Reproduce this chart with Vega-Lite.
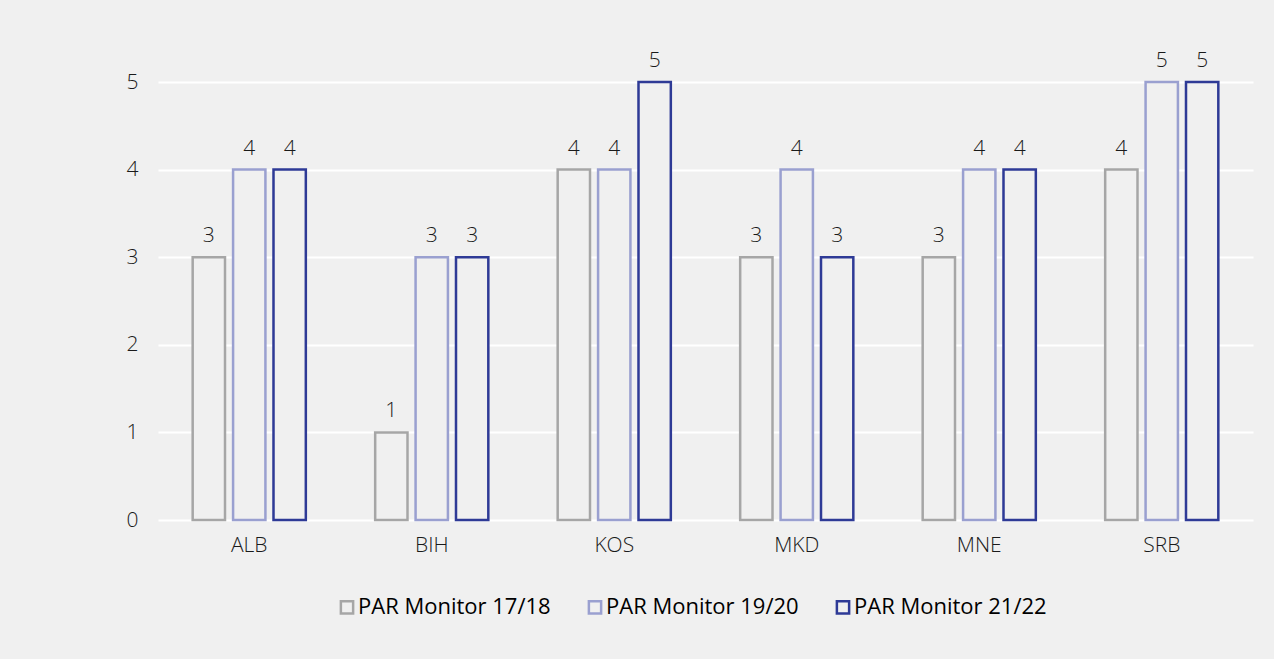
{
  "$schema": "https://vega.github.io/schema/vega-lite/v6.json",
  "autosize": "none",
  "width": 1095,
  "height": 438,
  "padding": {"left": 158, "top": 82, "right": 21, "bottom": 139},
  "background": "#f0f0f0",
  "data": {"values": [
    {"c": "ALB", "s": "PAR Monitor 17/18", "v": 3},
    {"c": "ALB", "s": "PAR Monitor 19/20", "v": 4},
    {"c": "ALB", "s": "PAR Monitor 21/22", "v": 4},
    {"c": "BIH", "s": "PAR Monitor 17/18", "v": 1},
    {"c": "BIH", "s": "PAR Monitor 19/20", "v": 3},
    {"c": "BIH", "s": "PAR Monitor 21/22", "v": 3},
    {"c": "KOS", "s": "PAR Monitor 17/18", "v": 4},
    {"c": "KOS", "s": "PAR Monitor 19/20", "v": 4},
    {"c": "KOS", "s": "PAR Monitor 21/22", "v": 5},
    {"c": "MKD", "s": "PAR Monitor 17/18", "v": 3},
    {"c": "MKD", "s": "PAR Monitor 19/20", "v": 4},
    {"c": "MKD", "s": "PAR Monitor 21/22", "v": 3},
    {"c": "MNE", "s": "PAR Monitor 17/18", "v": 3},
    {"c": "MNE", "s": "PAR Monitor 19/20", "v": 4},
    {"c": "MNE", "s": "PAR Monitor 21/22", "v": 4},
    {"c": "SRB", "s": "PAR Monitor 17/18", "v": 4},
    {"c": "SRB", "s": "PAR Monitor 19/20", "v": 5},
    {"c": "SRB", "s": "PAR Monitor 21/22", "v": 5}
  ]},
  "encoding": {
    "x": {"field": "c", "type": "nominal", "sort": null,
      "scale": {"paddingInner": 0.38, "paddingOuter": 0.19},
      "axis": {"title": null, "labelAngle": 0, "domain": false, "ticks": false, "labelPadding": 14,
        "labelFont": "Open Sans", "labelFontWeight": 300, "labelFontSize": 21, "labelColor": "#1a1a1a"}},
    "xOffset": {"field": "s", "type": "nominal", "scale": {"paddingInner": 0.2, "paddingOuter": 0}},
    "y": {"field": "v", "type": "quantitative",
      "scale": {"domain": [0, 5], "nice": false},
      "axis": {"title": null, "values": [0, 1, 2, 3, 4, 5], "labelOverlap": false, "domain": false, "ticks": false,
        "gridColor": "#ffffff", "gridWidth": 2, "labelPadding": 20,
        "labelFont": "Open Sans", "labelFontWeight": 300, "labelFontSize": 21, "labelColor": "#1a1a1a"}}
  },
  "layer": [
    {
      "mark": {"type": "bar", "fill": "#f0f0f0", "strokeWidth": 2.5},
      "encoding": {
        "stroke": {"field": "s", "type": "nominal",
          "scale": {"range": ["#a6a6a6", "#9aa0d0", "#2e3a96"]},
          "legend": {"title": null, "orient": "none", "legendX": 178, "legendY": 514, "direction": "horizontal",
            "symbolType": "square", "symbolSize": 150, "symbolStrokeWidth": 2.5, "symbolFillColor": "#f0f0f0",
            "labelFont": "Open Sans", "labelFontSize": 22, "labelColor": "#000000", "labelOffset": 0,
            "columnPadding": 32, "labelLimit": 400}}
      }
    },
    {
      "mark": {"type": "text", "dy": -21, "font": "Open Sans", "fontWeight": 300, "fontSize": 21, "color": "#1a1a1a"},
      "encoding": {"text": {"field": "v", "type": "quantitative"}}
    }
  ],
  "config": {"view": {"stroke": null}}
}
